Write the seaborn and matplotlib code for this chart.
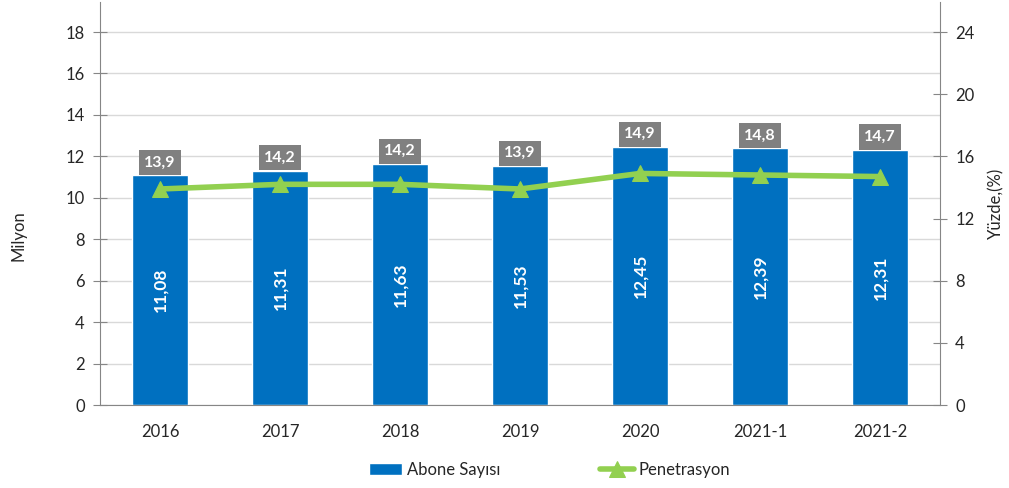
import numpy as np
import pandas as pd
import matplotlib
matplotlib.use("Agg")
import matplotlib.pyplot as plt
import seaborn as sns

periods = ["2016", "2017", "2018", "2019", "2020", "2021-1", "2021-2"]
subscribers = [11.08, 11.31, 11.63, 11.53, 12.45, 12.39, 12.31]
penetration = [13.9, 14.2, 14.2, 13.9, 14.9, 14.8, 14.7]

sns.set_style("white")
plt.rcParams['font.family'] = ['Lato', 'DejaVu Sans']

bar_color = "#0070C0"
line_color = "#92D050"
grid_color = "#D9D9D9"
axis_color = "#868686"

df = pd.DataFrame({"period": periods, "abone": subscribers, "pen": penetration})

fig = plt.figure(figsize=(10.09, 4.88), dpi=100)
ax = fig.add_axes([0.0991, 0.170, 0.8325, 0.826])

sns.barplot(data=df, x="period", y="abone", color=bar_color, saturation=1,
            width=0.46, ax=ax, label="Abone Sayısı", zorder=2)
ax.set_ylim(0, 19.45)
ax.set_xlim(-0.5, 6.5)
ax.set_yticks(np.arange(0, 19, 2))
ax.yaxis.grid(True, color=grid_color, lw=1, zorder=0)
ax.set_axisbelow(True)
ax.set_xlabel("")
ax.set_ylabel("Milyon", fontsize=12)
ax.yaxis.set_label_coords(-0.087, 0.42)
ax.tick_params(axis="y", direction="inout", length=10, color=axis_color,
               labelsize=12, pad=6)
ax.tick_params(axis="x", length=0, labelsize=12, pad=14)
ax.set_xticks(np.arange(-0.5, 7, 1), minor=True)
ax.tick_params(axis="x", which="minor", direction="inout", length=12,
               color=axis_color)
for s in ["top", "right"]:
    ax.spines[s].set_visible(False)
for s in ["left", "bottom"]:
    ax.spines[s].set_color(axis_color)

ax2 = ax.twinx()
sns.lineplot(x=np.arange(len(periods)), y=penetration, color=line_color, lw=4,
             marker="^", markersize=11, markeredgecolor=line_color, ax=ax2,
             label="Penetrasyon", zorder=5)
ax2.set_ylim(0, 19.45 * 4 / 3)
ax2.set_yticks(np.arange(0, 25, 4))
ax2.set_ylabel("Yüzde,(%)", fontsize=12)
ax2.yaxis.set_label_coords(1.057, 0.5)
ax2.tick_params(axis="y", direction="inout", length=10, color=axis_color,
                labelsize=12, pad=6)
for s in ["top", "left", "bottom"]:
    ax2.spines[s].set_visible(False)
ax2.spines["right"].set_color(axis_color)
ax2.get_legend().remove()

for i, (v, p) in enumerate(zip(subscribers, penetration)):
    ax.text(i, v / 2, f"{v:.2f}".replace(".", ","), rotation=90, color="white",
            fontsize=12.5, fontweight="bold", ha="center", va="center", zorder=6)
    ax.text(i, v + 0.62, f"{p:.1f}".replace(".", ","), color="white",
            fontsize=11.5, fontweight="bold", ha="center", va="center", zorder=6,
            bbox=dict(boxstyle="square,pad=0.35", fc="#808080", ec="none"))

h1, l1 = ax.get_legend_handles_labels()
h2, l2 = ax2.get_legend_handles_labels()
ax.legend(h1 + h2, l1 + l2, loc="center", bbox_to_anchor=(0.535, -0.161),
          ncol=2, frameon=False, fontsize=12, handlelength=2.0, columnspacing=6,
          handletextpad=0.3)

fig.savefig("out.png", dpi=100)
